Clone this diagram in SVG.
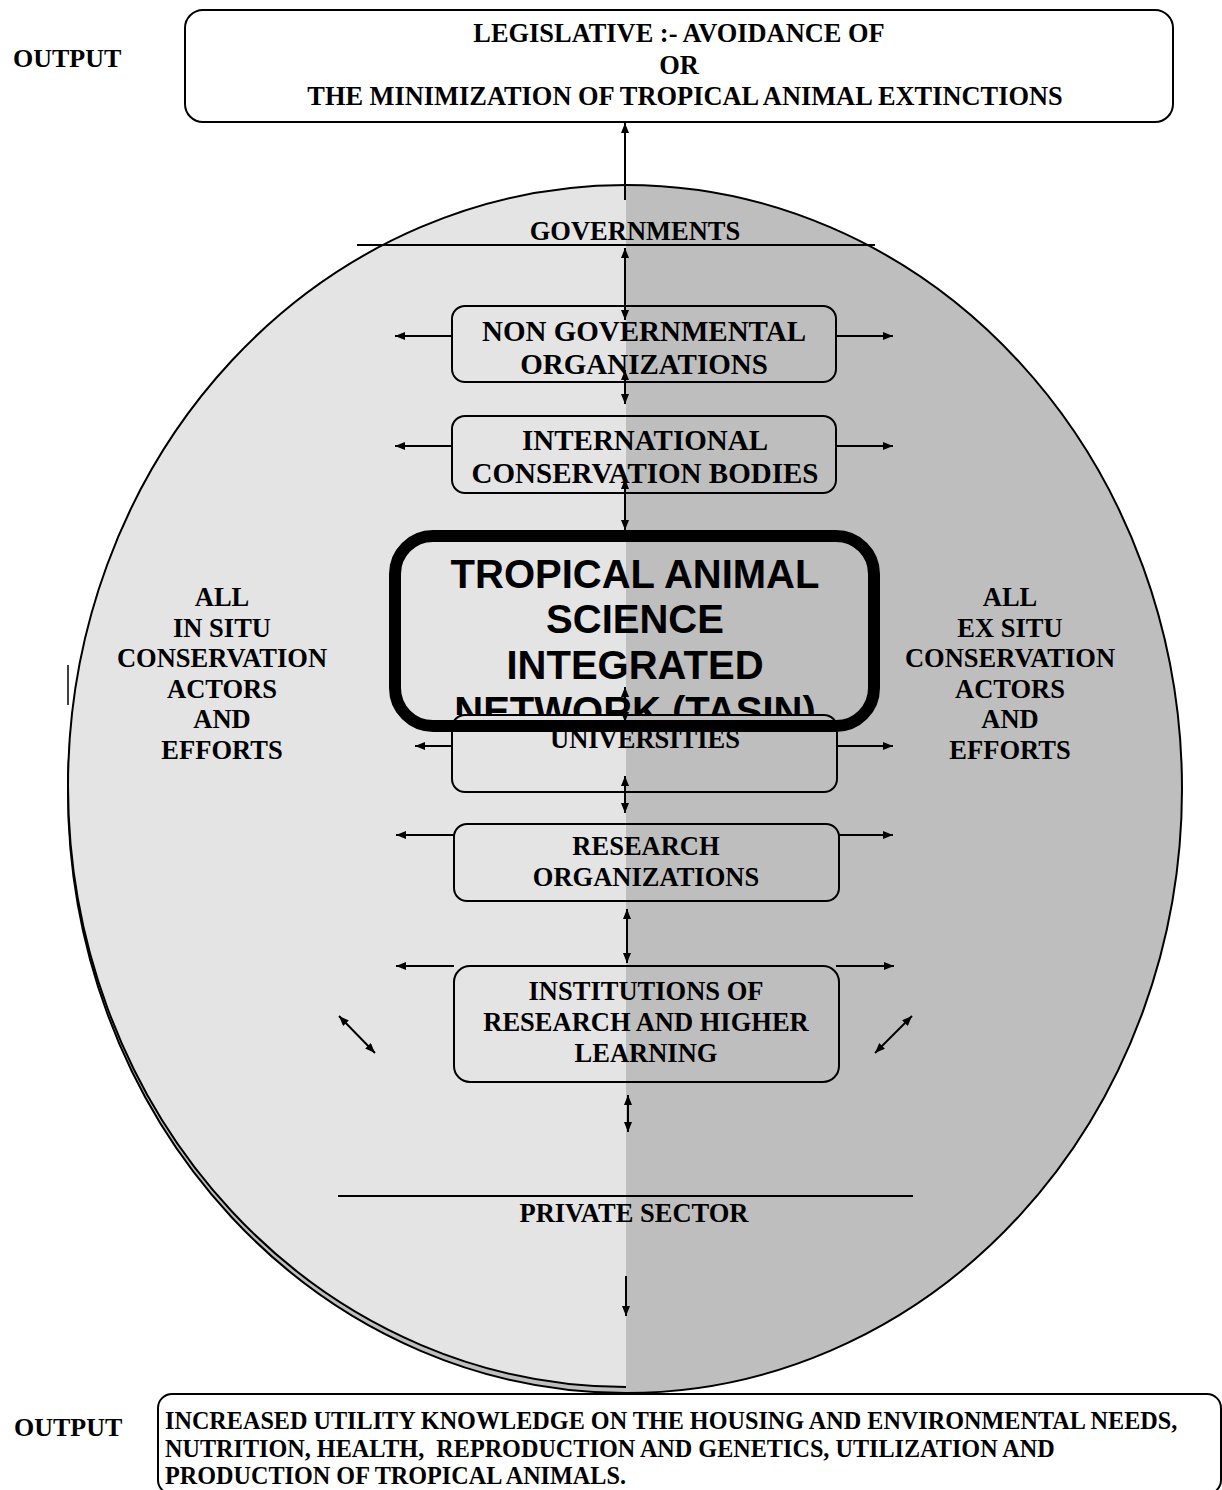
<svg xmlns="http://www.w3.org/2000/svg" width="1222" height="1490" viewBox="0 0 1222 1490">
<style>
.t{font-family:"Liberation Serif","Times New Roman",serif;font-weight:bold;fill:#000;}
.c{text-anchor:middle;}
.box{fill:none;stroke:#000;stroke-width:2;}
.arc{fill:none;stroke:#000;stroke-width:2;}
.ar{fill:none;stroke:#000;stroke-width:2;}
.a1{marker-end:url(#ah);}
.a2{marker-start:url(#ah);marker-end:url(#ah);}
.sans{font-family:"Liberation Sans",Arial,sans-serif;font-weight:bold;font-size:40px;text-anchor:middle;}
</style>
<defs>
<marker id="ah" viewBox="0 0 10 8" refX="10" refY="4" markerWidth="10" markerHeight="8" markerUnits="userSpaceOnUse" orient="auto-start-reverse">
<path d="M0,0 L10,4 L0,8 z" fill="#000"/>
</marker>
<clipPath id="tasinClip"><rect x="401" y="542" width="467" height="173"/></clipPath>
</defs>
<rect width="1222" height="1490" fill="#fff"/>

<g id="sphere">
<path d="M626,191 A558,601 0 0 0 626,1393 Z" fill="#bebebe"/>
<path d="M626,191 A558,601 0 0 0 626,1393" class="arc"/>
<path d="M626,185 A558,601 0 0 0 626,1387 Z" fill="#e4e4e4"/>
<path d="M626,185 A558,601 0 0 0 626,1387" class="arc"/>
<path d="M626,185 A556,604 0 0 1 626,1393 Z" fill="#bebebe"/>
<path d="M626,185 A556,604 0 0 1 626,1393" class="arc"/>
<line x1="68" y1="665" x2="68" y2="705" stroke="#000" stroke-width="1.5"/>
</g>

<g id="output-top">
<text class="t" x="13" y="67" font-size="26">OUTPUT</text>
</g>
<g id="legislative">
<rect class="box" x="185" y="10" width="988" height="112" rx="18"/>
<text class="t c" x="679" y="42" font-size="26.4">LEGISLATIVE :- AVOIDANCE OF</text>
<text class="t c" x="679" y="74" font-size="26.4">OR</text>
<text class="t c" x="685" y="105" font-size="26.4">THE MINIMIZATION OF TROPICAL ANIMAL EXTINCTIONS</text>
</g>

<g id="governments">
<line x1="357" y1="245" x2="875" y2="245" stroke="#000" stroke-width="2"/>
<text class="t c" x="635" y="240" font-size="26.5">GOVERNMENTS</text>
</g>

<g id="ngo">
<rect class="box" x="452" y="306" width="384" height="76" rx="13"/>
<text class="t c" x="644" y="341" font-size="29">NON GOVERNMENTAL</text>
<text class="t c" x="644" y="374" font-size="29">ORGANIZATIONS</text>
</g>

<g id="icb">
<rect class="box" x="452" y="416" width="384" height="77" rx="13"/>
<text class="t c" x="645" y="450" font-size="29">INTERNATIONAL</text>
<text class="t c" x="645" y="483" font-size="29">CONSERVATION BODIES</text>
</g>

<g id="in-situ">
<text class="t c" x="222" y="606" font-size="26.5">ALL</text>
<text class="t c" x="222" y="637" font-size="26.5">IN SITU</text>
<text class="t c" x="222" y="667" font-size="26.5">CONSERVATION</text>
<text class="t c" x="222" y="698" font-size="26.5">ACTORS</text>
<text class="t c" x="222" y="728" font-size="26.5">AND</text>
<text class="t c" x="222" y="759" font-size="26.5">EFFORTS</text>
</g>

<g id="ex-situ">
<text class="t c" x="1010" y="606" font-size="26.5">ALL</text>
<text class="t c" x="1010" y="637" font-size="26.5">EX SITU</text>
<text class="t c" x="1010" y="667" font-size="26.5">CONSERVATION</text>
<text class="t c" x="1010" y="698" font-size="26.5">ACTORS</text>
<text class="t c" x="1010" y="728" font-size="26.5">AND</text>
<text class="t c" x="1010" y="759" font-size="26.5">EFFORTS</text>
</g>

<g id="tasin">
<g clip-path="url(#tasinClip)">
<text class="sans" x="635" y="588">TROPICAL ANIMAL</text>
<text class="sans" x="635" y="633">SCIENCE</text>
<text class="sans" x="635" y="679">INTEGRATED</text>
<text class="sans" x="635" y="725">NETWORK (TASIN)</text>
</g>
<rect x="395" y="536" width="479" height="190" rx="38" fill="none" stroke="#000" stroke-width="12"/>
</g>

<g id="universities">
<rect class="box" x="452" y="715" width="385" height="77" rx="13"/>
<text class="t c" x="645" y="748" font-size="26.5">UNIVERSITIES</text>
</g>

<g id="research">
<rect class="box" x="454" y="824" width="385" height="77" rx="13"/>
<text class="t c" x="646" y="855" font-size="26.5">RESEARCH</text>
<text class="t c" x="646" y="886" font-size="26.5">ORGANIZATIONS</text>
</g>

<g id="institutions">
<rect class="box" x="454" y="966" width="385" height="116" rx="16"/>
<text class="t c" x="646" y="1000" font-size="26.5">INSTITUTIONS OF</text>
<text class="t c" x="646" y="1031" font-size="26.5">RESEARCH AND HIGHER</text>
<text class="t c" x="646" y="1062" font-size="26.5">LEARNING</text>
</g>

<g id="private-sector">
<line x1="338" y1="1196" x2="913" y2="1196" stroke="#000" stroke-width="2"/>
<text class="t c" x="634" y="1222" font-size="26.5">PRIVATE SECTOR</text>
</g>

<g id="output-bottom">
<text class="t" x="14" y="1436" font-size="26">OUTPUT</text>
</g>
<g id="utility">
<rect class="box" x="158" y="1394" width="1063" height="100" rx="14"/>
<text class="t" x="165" y="1429" font-size="24.2">INCREASED UTILITY KNOWLEDGE ON THE HOUSING AND ENVIRONMENTAL NEEDS,</text>
<text class="t" x="165" y="1457" font-size="24.2" xml:space="preserve">NUTRITION, HEALTH,  REPRODUCTION AND GENETICS, UTILIZATION AND</text>
<text class="t" x="165" y="1484" font-size="24.2">PRODUCTION OF TROPICAL ANIMALS.</text>
</g>

<g id="connectors">
<line class="ar a1" x1="625" y1="200" x2="625" y2="123"/>
<line class="ar a2" x1="625" y1="248" x2="625" y2="320"/>
<line class="ar a2" x1="625" y1="370" x2="625" y2="404"/>
<line class="ar a2" x1="625" y1="479" x2="625" y2="530"/>
<line class="ar a2" x1="625" y1="687" x2="625" y2="722"/>
<line class="ar a2" x1="625" y1="776" x2="625" y2="813"/>
<line class="ar a2" x1="627" y1="909" x2="627" y2="963"/>
<line class="ar a2" x1="628" y1="1095" x2="628" y2="1132"/>
<line class="ar a1" x1="626" y1="1276" x2="626" y2="1316"/>
<line class="ar a1" x1="452" y1="336" x2="395" y2="336"/>
<line class="ar a1" x1="836" y1="336" x2="893" y2="336"/>
<line class="ar a1" x1="452" y1="446" x2="395" y2="446"/>
<line class="ar a1" x1="836" y1="446" x2="893" y2="446"/>
<line class="ar a1" x1="452" y1="746" x2="415" y2="746"/>
<line class="ar a1" x1="837" y1="746" x2="893" y2="746"/>
<line class="ar a1" x1="454" y1="835" x2="396" y2="835"/>
<line class="ar a1" x1="839" y1="835" x2="893" y2="835"/>
<line class="ar a1" x1="454" y1="966" x2="396" y2="966"/>
<line class="ar a1" x1="836" y1="966" x2="894" y2="966"/>
<line class="ar a2" x1="339" y1="1016" x2="375" y2="1053"/>
<line class="ar a2" x1="875" y1="1053" x2="912" y2="1016"/>
</g>
</svg>
